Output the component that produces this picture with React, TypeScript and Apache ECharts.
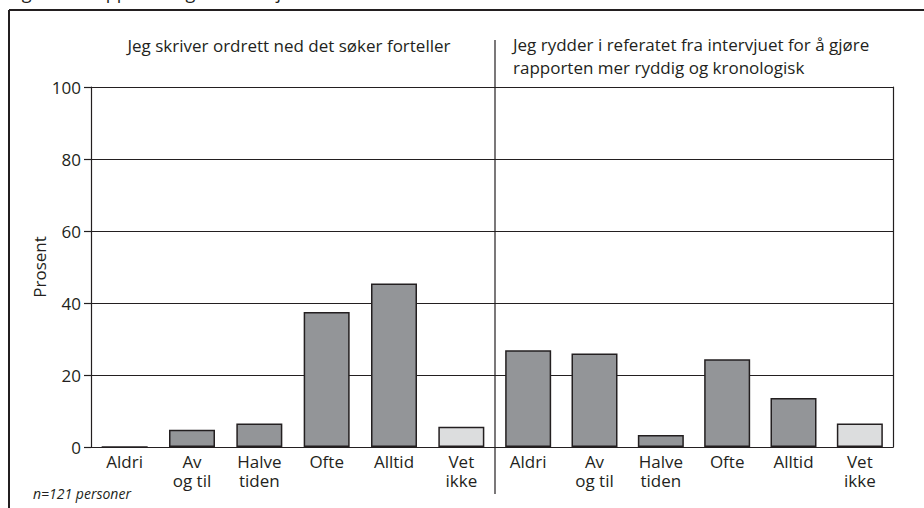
import React, { useEffect, useRef } from "react";
import * as echarts from "echarts";

const categories = ["Aldri", "Av\nog til", "Halve\ntiden", "Ofte", "Alltid", "Vet\nikke"];
const leftValues = [0, 4.8, 6.5, 37.5, 45.4, 5.6];
const rightValues = [26.9, 26.0, 3.3, 24.4, 13.6, 6.5];
const yTicks = [0, 20, 40, 60, 80, 100];
const leftTitle = "Jeg skriver ordrett ned det søker forteller";
const rightTitle = "Jeg rydder i referatet fra intervjuet for å gjøre\nrapporten mer ryddig og kronologisk";
const figTitle = "Figur 5.3 Rapportering fra intervjuene";
const note = "n=121 personer";
const yName = "Prosent";

const FONT = "'Open Sans', 'Noto Sans', sans-serif";
const INK = "#231f20";
const DARK = "#939598";
const LIGHT = "#dcddde";

function toData(vals: number[]) {
  return vals.map((v, i) => ({
    value: v,
    itemStyle: { color: i === vals.length - 1 ? LIGHT : DARK },
  }));
}

export default function App() {
  const ref = useRef<HTMLDivElement>(null);
  useEffect(() => {
    if (!ref.current) return;
    const chart = echarts.init(ref.current, undefined, { renderer: "svg" });
    const xAxisBase = {
      type: "category" as const,
      data: categories,
      axisLine: { show: true, lineStyle: { color: INK, width: 1.2 } },
      axisTick: { show: false },
      axisLabel: {
        color: INK,
        fontFamily: FONT,
        fontSize: 17,
        lineHeight: 19,
        margin: 5,
        interval: 0,
      },
    };
    const yBase = {
      type: "value" as const,
      min: yTicks[0],
      max: yTicks[yTicks.length - 1],
      interval: 20,
    };
    chart.setOption({
      animation: false,
      backgroundColor: "#ffffff",
      grid: [
        { left: 91, top: 87, width: 404, height: 360 },
        { left: 495, top: 87, width: 398, height: 360 },
      ],
      xAxis: [
        { ...xAxisBase, gridIndex: 0 },
        { ...xAxisBase, gridIndex: 1 },
      ],
      yAxis: [
        {
          ...yBase,
          gridIndex: 0,
          axisLine: { show: true, lineStyle: { color: INK, width: 1.2 } },
          axisTick: { show: true, length: 7, lineStyle: { color: INK, width: 1.2 } },
          axisLabel: { color: INK, fontFamily: FONT, fontSize: 17, margin: 10 },
          splitLine: { show: true, lineStyle: { color: INK, width: 1 } },
          name: yName,
          nameLocation: "middle",
          nameGap: 41,
          nameTextStyle: { color: INK, fontFamily: FONT, fontSize: 17 },
        },
        {
          ...yBase,
          gridIndex: 1,
          position: "right",
          axisLine: { show: true, lineStyle: { color: INK, width: 1.2 } },
          axisTick: { show: false },
          axisLabel: { show: false },
          splitLine: { show: true, lineStyle: { color: INK, width: 1 } },
        },
      ],
      series: [
        {
          type: "bar",
          xAxisIndex: 0,
          yAxisIndex: 0,
          data: toData(leftValues),
          barWidth: 46,
          itemStyle: { borderColor: INK, borderWidth: 1.5 },
          z: 3,
        },
        {
          type: "bar",
          xAxisIndex: 1,
          yAxisIndex: 1,
          data: toData(rightValues),
          barWidth: 46,
          itemStyle: { borderColor: INK, borderWidth: 1.5 },
          z: 3,
        },
      ],
      graphic: [
        {
          type: "line",
          shape: { x1: 9, y1: 10, x2: 924, y2: 10 },
          style: { stroke: INK, lineWidth: 2 },
        },
        {
          type: "line",
          shape: { x1: 9, y1: 10, x2: 9, y2: 508 },
          style: { stroke: INK, lineWidth: 2 },
        },
        {
          type: "line",
          shape: { x1: 495, y1: 40, x2: 495, y2: 494 },
          style: { stroke: INK, lineWidth: 1.2 },
          z: 10,
        },
        {
          type: "text",
          x: 8,
          y: -17,
          style: { text: figTitle, fill: INK, font: `18px ${FONT}` },
        },
        {
          type: "text",
          x: 289,
          y: 45,
          style: {
            text: leftTitle,
            fill: INK,
            font: `17px ${FONT}`,
            textAlign: "center",
            textVerticalAlign: "middle",
          },
        },
        {
          type: "text",
          x: 513,
          y: 33,
          style: {
            text: rightTitle,
            fill: INK,
            font: `17px ${FONT}`,
            lineHeight: 23,
            textAlign: "left",
            textVerticalAlign: "top",
          },
        },
        {
          type: "text",
          x: 33,
          y: 493,
          style: {
            text: note,
            fill: INK,
            font: `italic 14px ${FONT}`,
            textVerticalAlign: "middle",
          },
        },
      ],
    });
    return () => chart.dispose();
  }, []);
  return (
    <div
      ref={ref}
      style={{ position: "fixed", left: 0, top: 0, width: 924, height: 508 }}
    />
  );
}
